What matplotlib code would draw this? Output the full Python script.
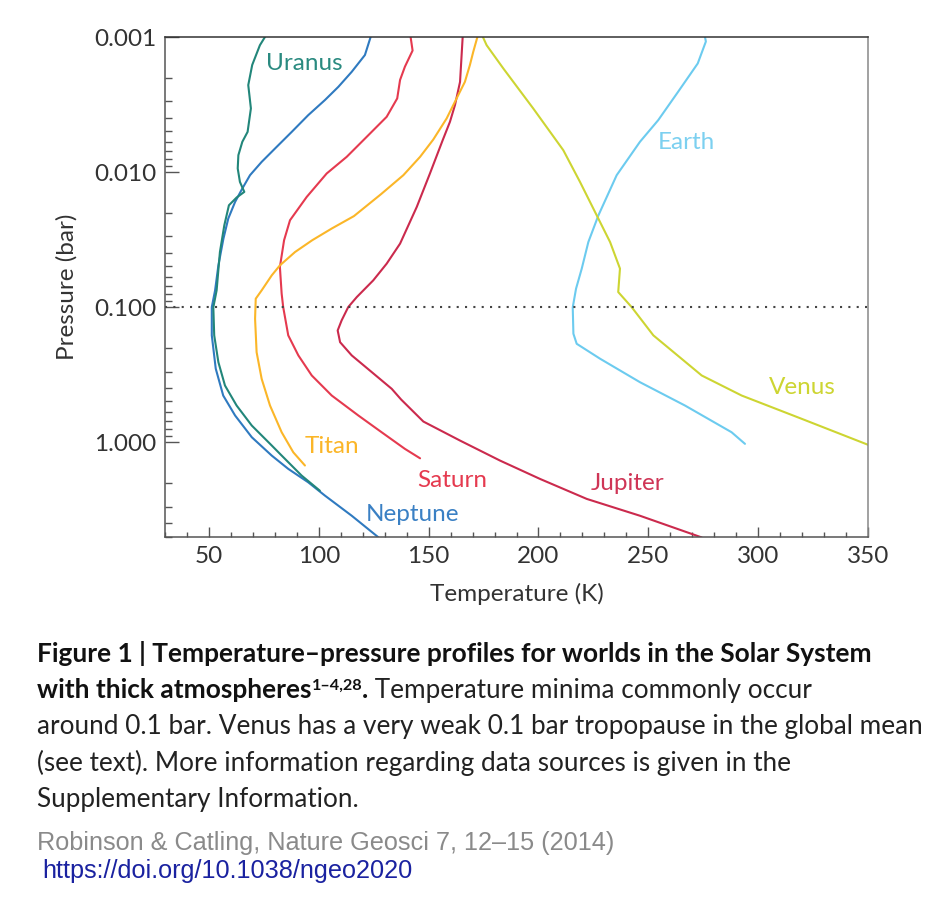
import matplotlib
matplotlib.use("Agg")
import matplotlib.pyplot as plt
from matplotlib.ticker import FixedLocator, LogLocator, MultipleLocator, FuncFormatter, NullFormatter

# ---------------- data (temperature K, pressure bar) ----------------
uranus_T = [75.5, 73.2, 69.7, 67.9, 69.1, 67.6, 65.2, 63.4, 63.1, 64.1, 66.1, 62.6, 59.1,
            57.0, 55.0, 53.5, 52.0, 52.4, 54.3, 57.3, 62.6, 69.5, 78.6, 82.3, 92.2, 100.5]
uranus_P = [0.001, 0.00115, 0.00161, 0.00227, 0.00338, 0.00504, 0.00597, 0.00750, 0.00941,
            0.01183, 0.01403, 0.01544, 0.01762, 0.02478, 0.0391, 0.0752, 0.1004, 0.162,
            0.256, 0.381, 0.536, 0.754, 1.06, 1.22, 1.77, 2.29]

neptune_T = [123.6, 121.0, 115.0, 108.9, 102.8, 95.2, 87.7, 80.1, 74.0, 68.7, 65.2, 61.9,
             58.8, 56.6, 54.3, 52.8, 51.3, 51.3, 53.1, 56.5, 61.9, 69.5, 78.6, 86.1, 95.2,
             102.8, 115.0, 127.0]
neptune_P = [0.001, 0.00136, 0.00181, 0.00234, 0.00293, 0.00379, 0.00504, 0.00669, 0.00841,
             0.01055, 0.01324, 0.01665, 0.0221, 0.0311, 0.0491, 0.0752, 0.100, 0.162, 0.286,
             0.452, 0.635, 0.920, 1.259, 1.578, 1.985, 2.49, 3.51, 5.05]

titan_T = [172.2, 170.3, 168.8, 166.5, 163.5, 158.2, 152.1, 146.1, 138.5, 128.3, 116.0,
           105.9, 97.0, 89.2, 82.3, 78.6, 74.0, 71.3, 71.0, 71.7, 74.0, 77.8, 83.1, 88.4, 93.7]
titan_P = [0.001, 0.00129, 0.00161, 0.00215, 0.00269, 0.00401, 0.00575, 0.00772, 0.01055,
           0.0146, 0.0212, 0.0262, 0.0320, 0.0391, 0.0491, 0.0582, 0.0752, 0.0867, 0.122,
           0.216, 0.340, 0.536, 0.845, 1.19, 1.49]

saturn_T = [141.8, 142.7, 139.2, 137.0, 135.7, 130.9, 121.8, 112.7, 103.6, 94.5, 86.9, 84.2,
            82.3, 83.1, 83.8, 86.1, 90.7, 96.8, 105.9, 118.0, 128.6, 139.2, 146.1]
saturn_P = [0.001, 0.00126, 0.00166, 0.00208, 0.00285, 0.00390, 0.00549, 0.00772, 0.01025,
            0.01529, 0.02275, 0.0320, 0.0505, 0.0796, 0.100, 0.162, 0.228, 0.321, 0.452,
            0.635, 0.845, 1.122, 1.318]

jupiter_T = [165.5, 164.3, 162.0, 159.7, 156.4, 150.6, 144.6, 137.0, 130.9, 124.8, 117.3,
             113.4, 110.4, 108.6, 109.7, 115.0, 124.1, 133.2, 137.5, 147.6, 164.3, 182.5,
             200.7, 222.0, 246.2, 259.1, 274.3]
jupiter_P = [0.001, 0.00215, 0.00319, 0.00425, 0.00581, 0.01025, 0.01813, 0.0339, 0.0477,
             0.0634, 0.0843, 0.100, 0.1255, 0.149, 0.182, 0.228, 0.303, 0.403, 0.484, 0.704,
             0.974, 1.37, 1.873, 2.635, 3.51, 4.16, 5.08]

venus_T = [174.7, 176.4, 184.0, 197.6, 211.3, 218.9, 226.5, 232.6, 237.1, 236.3, 242.4,
           252.3, 274.3, 292.5, 319.8, 350.1]
venus_P = [0.001, 0.00115, 0.00171, 0.00338, 0.00689, 0.01183, 0.0209, 0.0330, 0.0519,
           0.0774, 0.100, 0.162, 0.321, 0.452, 0.672, 1.048]

earth_T = [275.8, 276.2, 272.5, 263.6, 254.5, 246.2, 235.6, 227.3, 222.7, 219.7, 217.1,
           215.6, 215.9, 217.4, 228.0, 246.2, 266.7, 287.9, 294.0]
earth_P = [0.001, 0.00108, 0.00157, 0.00254, 0.00413, 0.00597, 0.01055, 0.0209, 0.0330,
           0.0519, 0.0731, 0.1005, 0.1575, 0.187, 0.241, 0.360, 0.536, 0.845, 1.03]

y_ticks = [0.001, 0.01, 0.1, 1.0]
x_ticks = [50, 100, 150, 200, 250, 300, 350]
tropopause_P = 0.1

# ---------------- styling ----------------
FONT = "Lato"
FS = 17.5
W, H = 944, 899
fig = plt.figure(figsize=(W / 100, H / 100), dpi=100)
fig.patch.set_facecolor("white")

L, R, T, B = 165, 868, 37, 536.5
ax = fig.add_axes([L / W, 1 - B / H, (R - L) / W, (B - T) / H])
ax.set_yscale("log")
ax.set_xlim(30, 350)
ax.set_ylim(5.0, 0.001)

series = [
    (earth_T, earth_P, "#6ccbef"),
    (venus_T, venus_P, "#cdd532"),
    (jupiter_T, jupiter_P, "#cb2a4d"),
    (saturn_T, saturn_P, "#e53a4f"),
    (titan_T, titan_P, "#fbb628"),
    (neptune_T, neptune_P, "#2f7ac0"),
    (uranus_T, uranus_P, "#22867a"),
]
for xs, ps, c in series:
    ax.plot(xs, ps, color=c, lw=1.5, solid_joinstyle="round", solid_capstyle="round")

ax.axhline(tropopause_P, color="#444444", lw=1.5, linestyle=(0, (1, 3)))

label_style = dict(fontsize=FS, family=FONT, ha="center", va="center")
ax.text(93.4, 0.00157, "Uranus", color="#2a8a80", **label_style)
ax.text(142.7, 3.41, "Neptune", color="#3a80c4", **label_style)
ax.text(106.2, 1.074, "Titan", color="#fbb628", **label_style)
ax.text(160.8, 1.93, "Saturn", color="#e53a4f", **label_style)
ax.text(240.7, 2.04, "Jupiter", color="#cf3556", **label_style)
ax.text(320.3, 0.392, "Venus", color="#cdd532", **label_style)
ax.text(267.5, 0.00604, "Earth", color="#7cd0f0", **label_style)

# ticks
ax.xaxis.set_major_locator(FixedLocator(x_ticks))
ax.xaxis.set_minor_locator(MultipleLocator(10))
ax.yaxis.set_major_locator(FixedLocator(y_ticks))
ax.yaxis.set_minor_locator(LogLocator(base=10, subs=range(2, 10)))
ax.yaxis.set_major_formatter(FuncFormatter(lambda v, p: f"{v:.3f}"))
ax.yaxis.set_minor_formatter(NullFormatter())
ax.tick_params(axis="x", which="major", direction="in", length=7, width=1,
               color="#555555", pad=7, labelsize=FS, labelcolor="#333333")
ax.tick_params(axis="x", which="minor", direction="in", length=3.5, width=1, color="#555555")
ax.tick_params(axis="y", which="major", direction="in", length=10, width=1,
               color="#555555", pad=6, labelsize=FS, labelcolor="#333333")
ax.tick_params(axis="y", which="minor", direction="in", length=5, width=1, color="#555555")
for lab in ax.get_xticklabels() + ax.get_yticklabels():
    lab.set_family(FONT)

ax.spines["left"].set_color("#555555")
ax.spines["bottom"].set_color("#555555")
ax.spines["top"].set_color("#333333")
ax.spines["right"].set_color("#888888")
for s in ax.spines.values():
    s.set_linewidth(1.1)

fig.text(517 / W, 1 - 594 / H, "Temperature (K)", family=FONT, fontsize=FS,
         color="#333333", ha="center", va="center")
fig.text(67 / W, 1 - 287 / H, "Pressure (bar)", family=FONT, fontsize=FS,
         color="#333333", ha="center", va="center", rotation=90)

# ---------------- caption ----------------
renderer = fig.canvas.get_renderer()


def fit_size(text, target_w, **kw):
    t = fig.text(0, 0, text, fontsize=10, **kw)
    w = t.get_window_extent(renderer).width
    t.remove()
    return 10 * target_w / w


def put_line(x_px, base_px, segments):
    x = x_px
    for txt, kw, dy in segments:
        t = fig.text(x / W, 1 - (base_px - dy) / H, txt, va="baseline", ha="left", **kw)
        x += t.get_window_extent(renderer).width


bold_kw = dict(family=FONT, weight="bold", color="#111111")
reg_kw = dict(family=FONT, color="#222222")
bsize = fit_size("Figure 1 | Temperature–pressure profiles for worlds in the Solar System", 837, **bold_kw)
rsize = fit_size("(see text). More information regarding data sources is given in the", 752, **reg_kw)

put_line(37, 662, [("Figure 1 | Temperature–pressure profiles for worlds in the Solar System",
                    dict(fontsize=bsize, **bold_kw), 0)])
put_line(37, 698, [("with thick atmospheres", dict(fontsize=bsize, **bold_kw), 0),
                   ("1–4,28", dict(fontsize=bsize * 0.62, **bold_kw), 8),
                   (".", dict(fontsize=bsize, **bold_kw), 0),
                   (" Temperature minima commonly occur", dict(fontsize=rsize, **reg_kw), 0)])
put_line(37, 734, [("around 0.1 bar. Venus has a very weak 0.1 bar tropopause in the global mean",
                    dict(fontsize=rsize, **reg_kw), 0)])
put_line(37, 771, [("(see text). More information regarding data sources is given in the",
                    dict(fontsize=rsize, **reg_kw), 0)])
put_line(37, 807, [("Supplementary Information.", dict(fontsize=rsize, **reg_kw), 0)])

cite_kw = dict(family="Liberation Sans", color="#8a8a8a")
csize = fit_size("Robinson & Catling, Nature Geosci 7, 12–15 (2014)", 579, **cite_kw)
put_line(37, 850, [("Robinson & Catling, Nature Geosci 7, 12–15 (2014)", dict(fontsize=csize, **cite_kw), 0)])
doi_kw = dict(family="Liberation Sans", color="#1a22a0")
dsize = fit_size("https://doi.org/10.1038/ngeo2020", 371, **doi_kw)
put_line(42, 878, [("https://doi.org/10.1038/ngeo2020", dict(fontsize=dsize, **doi_kw), 0)])

fig.savefig("out.png", dpi=100, facecolor="white")
